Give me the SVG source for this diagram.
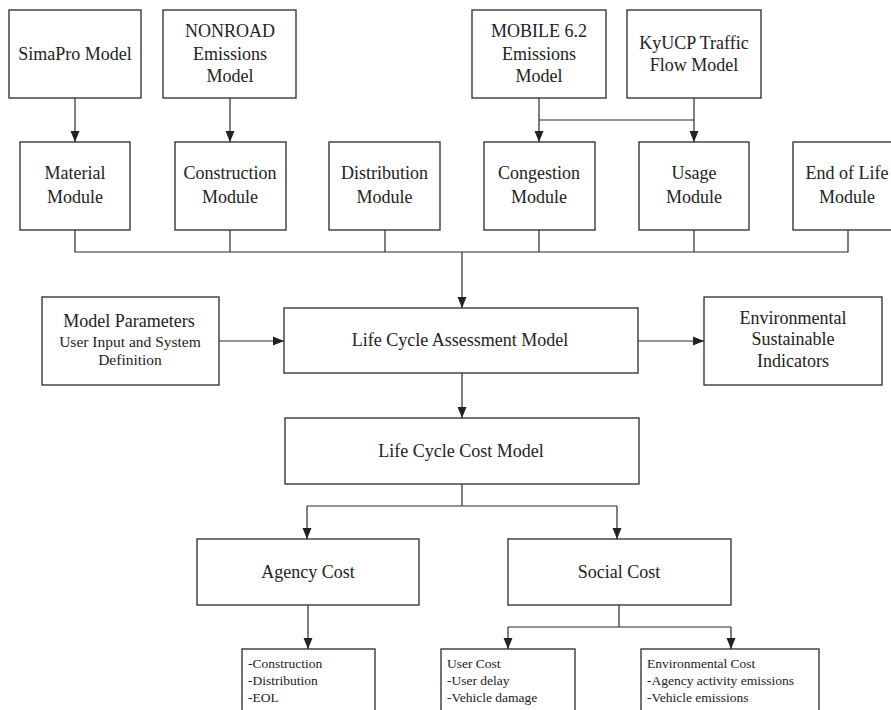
<svg xmlns="http://www.w3.org/2000/svg" width="891" height="710" viewBox="0 0 891 710">
<defs>
<style>
.box{fill:#fff;stroke:#2a2a2a;stroke-width:1.3}
.ln{fill:none;stroke:#2a2a2a;stroke-width:1.2}
.t{font-family:"Liberation Serif","Times New Roman",serif;font-size:18px;fill:#222;text-anchor:middle}
.s{font-family:"Liberation Serif","Times New Roman",serif;font-size:15.5px;fill:#222;text-anchor:middle}
.l{font-family:"Liberation Serif","Times New Roman",serif;font-size:13.5px;fill:#222}
</style>
<marker id="ah" markerUnits="userSpaceOnUse" markerWidth="12" markerHeight="12" viewBox="0 0 12 12" refX="11" refY="6" orient="auto">
<path d="M0,1.5 L11,6 L0,10.5 Z" fill="#222"/>
</marker>
</defs>
<rect width="891" height="710" fill="#fff"/>

<g id="simapro"><rect class="box" x="9" y="10" width="132" height="88"/><text class="t" x="75" y="60">SimaPro Model</text></g>
<g id="nonroad"><rect class="box" x="163" y="10" width="133" height="88"/><text class="t" x="230" y="37">NONROAD</text><text class="t" x="230" y="60">Emissions</text><text class="t" x="230" y="82">Model</text></g>
<g id="mobile"><rect class="box" x="472" y="10" width="134" height="88"/><text class="t" x="539" y="37">MOBILE 6.2</text><text class="t" x="539" y="60">Emissions</text><text class="t" x="539" y="82">Model</text></g>
<g id="kyucp"><rect class="box" x="627" y="10" width="134" height="88"/><text class="t" x="694" y="49">KyUCP Traffic</text><text class="t" x="694" y="71">Flow Model</text></g>

<g id="material"><rect class="box" x="20" y="142" width="110" height="88"/><text class="t" x="75" y="179">Material</text><text class="t" x="75" y="203">Module</text></g>
<g id="construction"><rect class="box" x="175" y="142" width="111" height="88"/><text class="t" x="230" y="179">Construction</text><text class="t" x="230" y="203">Module</text></g>
<g id="distribution"><rect class="box" x="329" y="142" width="111" height="88"/><text class="t" x="384.5" y="179">Distribution</text><text class="t" x="384.5" y="203">Module</text></g>
<g id="congestion"><rect class="box" x="484" y="142" width="111" height="88"/><text class="t" x="539" y="179">Congestion</text><text class="t" x="539" y="203">Module</text></g>
<g id="usage"><rect class="box" x="639" y="142" width="110" height="88"/><text class="t" x="694" y="179">Usage</text><text class="t" x="694" y="203">Module</text></g>
<g id="endoflife"><rect class="box" x="793" y="142" width="110" height="88"/><text class="t" x="847" y="179">End of Life</text><text class="t" x="847" y="203">Module</text></g>

<g id="params"><rect class="box" x="42" y="297" width="177" height="88"/><text class="t" x="129" y="327">Model Parameters</text><text class="s" x="130" y="347">User Input and System</text><text class="s" x="130" y="365">Definition</text></g>
<g id="lca"><rect class="box" x="284" y="308" width="354" height="65"/><text class="t" x="460" y="346">Life Cycle Assessment Model</text></g>
<g id="indicators"><rect class="box" x="704" y="297" width="178" height="88"/><text class="t" x="793" y="324">Environmental</text><text class="t" x="793" y="345">Sustainable</text><text class="t" x="793" y="367">Indicators</text></g>

<g id="lcc"><rect class="box" x="285" y="418" width="354" height="66"/><text class="t" x="461" y="457">Life Cycle Cost Model</text></g>
<g id="agency"><rect class="box" x="197" y="539" width="222" height="66"/><text class="t" x="308" y="578">Agency Cost</text></g>
<g id="social"><rect class="box" x="508" y="539" width="223" height="66"/><text class="t" x="619" y="578">Social Cost</text></g>

<g id="agencyitems"><rect class="box" x="242" y="649" width="133" height="75"/><text class="l" x="248" y="668">-Construction</text><text class="l" x="248" y="685">-Distribution</text><text class="l" x="248" y="702">-EOL</text></g>
<g id="usercost"><rect class="box" x="441" y="649" width="134" height="75"/><text class="l" x="447" y="668">User Cost</text><text class="l" x="447" y="685">-User delay</text><text class="l" x="447" y="702">-Vehicle damage</text></g>
<g id="envcost"><rect class="box" x="641" y="649" width="178" height="75"/><text class="l" x="647" y="668">Environmental Cost</text><text class="l" x="647" y="685">-Agency activity emissions</text><text class="l" x="647" y="702">-Vehicle emissions</text></g>

<g id="connectors">
<line class="ln" x1="75" y1="98" x2="75" y2="142" marker-end="url(#ah)"/>
<line class="ln" x1="230" y1="98" x2="230" y2="142" marker-end="url(#ah)"/>
<line class="ln" x1="539" y1="98" x2="539" y2="142" marker-end="url(#ah)"/>
<line class="ln" x1="694" y1="98" x2="694" y2="142" marker-end="url(#ah)"/>
<line class="ln" x1="539" y1="120" x2="694" y2="120"/>
<path class="ln" d="M75,230 V252 H848 V230 M230,230 V252 M385,230 V252 M539,230 V252 M694,230 V252"/>
<line class="ln" x1="462" y1="252" x2="462" y2="308" marker-end="url(#ah)"/>
<line class="ln" x1="219" y1="341" x2="284" y2="341" marker-end="url(#ah)"/>
<line class="ln" x1="638" y1="341" x2="704" y2="341" marker-end="url(#ah)"/>
<line class="ln" x1="462" y1="373" x2="462" y2="418" marker-end="url(#ah)"/>
<path class="ln" d="M462,484 V506 H617 M462,506 H307"/>
<line class="ln" x1="307" y1="506" x2="307" y2="539" marker-end="url(#ah)"/>
<line class="ln" x1="617" y1="506" x2="617" y2="539" marker-end="url(#ah)"/>
<line class="ln" x1="308" y1="605" x2="308" y2="649" marker-end="url(#ah)"/>
<path class="ln" d="M619,605 V627 H731 M619,627 H508"/>
<line class="ln" x1="508" y1="627" x2="508" y2="649" marker-end="url(#ah)"/>
<line class="ln" x1="731" y1="627" x2="731" y2="649" marker-end="url(#ah)"/>
</g>
</svg>
